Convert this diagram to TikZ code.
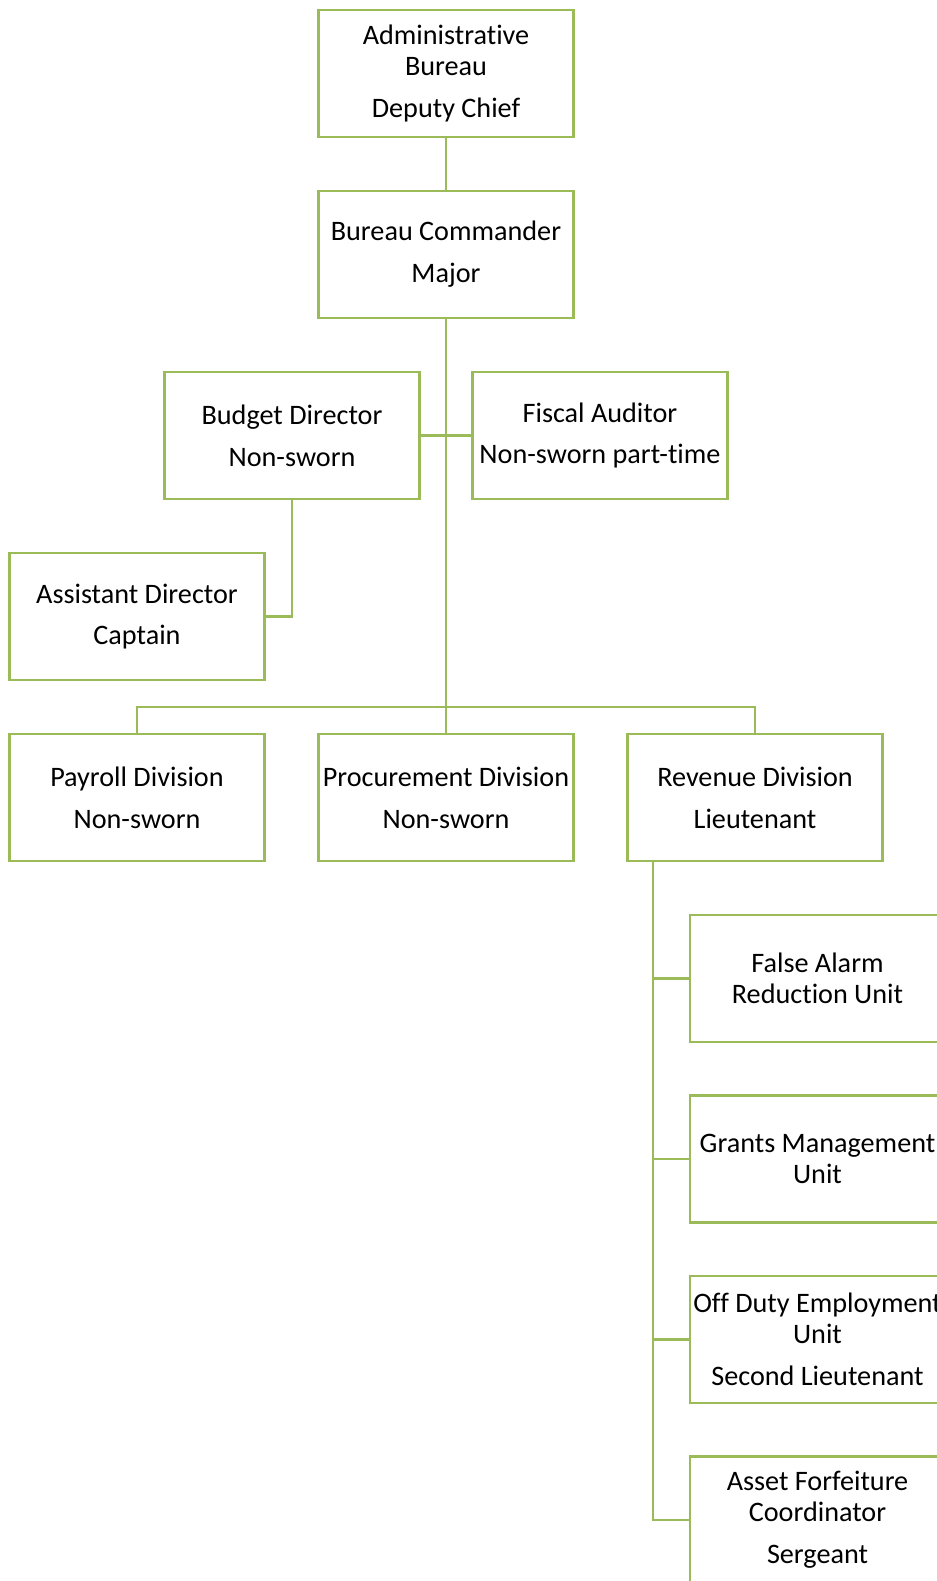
\documentclass[tikz,border=0pt]{standalone}
\usepackage{fontspec}
\setmainfont{Carlito}[Ligatures=NoCommon]
\usepackage{tikz}
\usetikzlibrary{positioning}

\definecolor{orggreen}{HTML}{9BBB59}

\tikzset{
  unit/.style={draw=orggreen, line width=1.2pt, minimum width=127.5pt,
    minimum height=63.5pt, inner sep=1pt, outer sep=0pt, align=center,
    font=\fontsize{14.1pt}{15.6pt}\selectfont},
  link/.style={draw=orggreen, line width=1.2pt}
}

\begin{document}
\begin{tikzpicture}[node distance=27pt]
      \useasboundingbox (0,0) rectangle (468.5pt,-790.5pt);
      \clip (0,0) rectangle (468.5pt,-790.5pt);

      \node[unit] (admin) at (223pt,-36.75pt) {Administrative\\Bureau\\[5.3pt]Deputy Chief};
      \node[unit, below=of admin] (bureau) {Bureau Commander\\[5.3pt]Major};
      \node[unit, below=of bureau, xshift=-77pt] (budget) {Budget Director\\[5.3pt]Non-sworn};
      \node[unit, below=of bureau, xshift=77pt] (auditor) {Fiscal Auditor\\[5.3pt]Non-sworn part-time};
      \node[unit, below=of budget, xshift=-77.5pt] (assistant) {Assistant Director\\[5.3pt]Captain};
      \node[unit, below=of assistant] (payroll) {Payroll Division\\[5.3pt]Non-sworn};
      \node[unit, right=of payroll] (procurement) {Procurement Division\\[5.3pt]Non-sworn};
      \node[unit, right=of procurement] (revenue) {Revenue Division\\[5.3pt]Lieutenant};

      % units under revenue
      \node[unit, below=of revenue, xshift=31.25pt] (alarm) {False Alarm\\Reduction Unit};
      \node[unit, below=26.75pt of alarm] (grants) {Grants Management\\Unit};
      \node[unit, below=26.75pt of grants] (offduty) {Off Duty Employment\\Unit\\[5.3pt]Second Lieutenant};
      \node[unit, below=26.75pt of offduty] (asset) {Asset Forfeiture\\Coordinator\\[5.3pt]Sergeant};

      \draw[link] (admin) -- (bureau);
      \draw[link] (bureau) -- (procurement);
      \draw[link] (budget) -- (auditor);
      \draw[link] (budget) |- (assistant);

      \coordinate[above=13.5pt of procurement] (bus);
      \draw[link] (payroll.north) |- (bus) -| (revenue.north);

      \coordinate (spine) at ([xshift=12.75pt]revenue.south west);
      \foreach \u in {alarm,grants,offduty,asset}
        \draw[link] (spine) |- (\u);
    \end{tikzpicture}
\end{document}
